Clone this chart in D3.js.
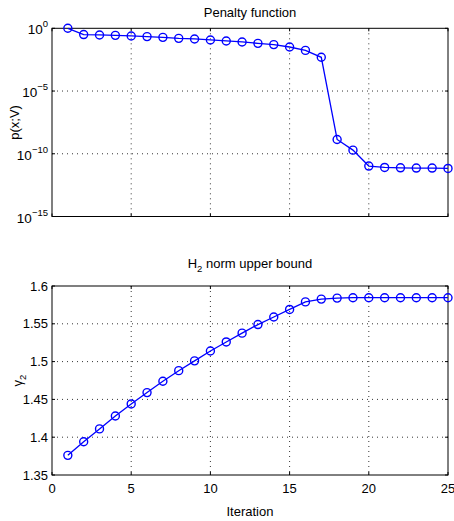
<!DOCTYPE html>
<html><head><meta charset="utf-8">
<script src="https://cdn.jsdelivr.net/npm/d3@7"></script>
<style>body{margin:0;background:#fff}svg{display:block}text{font-family:"Liberation Sans",Arial,Helvetica,sans-serif;fill:#000}</style>
</head><body>
<script>
const iterations = d3.range(1, 26);
const penaltyExp = [0,-0.5,-0.53,-0.56,-0.61,-0.66,-0.72,-0.8,-0.85,-0.93,-1.01,-1.09,-1.2,-1.3,-1.49,-1.76,-2.31,-8.86,-9.71,-10.98,-11.09,-11.12,-11.14,-11.14,-11.17];
const penalty = penaltyExp.map(e => Math.pow(10, e));
const gamma2 = [1.376,1.394,1.411,1.428,1.444,1.459,1.474,1.488,1.501,1.514,1.526,1.5376,1.549,1.559,1.569,1.579,1.5827,1.584,1.5845,1.5845,1.5845,1.5845,1.5845,1.5845,1.5845];
const xTicks = [0,5,10,15,20,25];
const logTicks = [0,-5,-10,-15];
const linTicks = [1.35,1.4,1.45,1.5,1.55,1.6];

const W = 454, H = 521;
const svg = d3.select("body").append("svg").attr("width", W).attr("height", H);
const L = 52, R = 448;
const x = d3.scaleLinear().domain([0,25]).range([L,R]);
const blue = "#0000ff";
const TL = 3;

function frame(top, bottom, y, yTickVals, gridY, showXLabels) {
  const g = svg.append("g");
  xTicks.filter(t => t>0 && t<25).forEach(t => {
    g.append("line").attr("x1", x(t)).attr("x2", x(t)).attr("y1", top).attr("y2", bottom)
      .attr("stroke","#000").attr("stroke-width",0.8).attr("stroke-dasharray","1,4");
  });
  gridY.forEach(v => {
    g.append("line").attr("x1", L).attr("x2", R).attr("y1", y(v)).attr("y2", y(v))
      .attr("stroke","#000").attr("stroke-width",0.8).attr("stroke-dasharray","1,4");
  });
  xTicks.forEach(t => {
    g.append("line").attr("x1",x(t)).attr("x2",x(t)).attr("y1",bottom).attr("y2",bottom-TL).attr("stroke","#000");
    g.append("line").attr("x1",x(t)).attr("x2",x(t)).attr("y1",top).attr("y2",top+TL).attr("stroke","#000");
  });
  yTickVals.forEach(v => {
    g.append("line").attr("x1",L).attr("x2",L+TL).attr("y1",y(v)).attr("y2",y(v)).attr("stroke","#000");
    g.append("line").attr("x1",R).attr("x2",R-TL).attr("y1",y(v)).attr("y2",y(v)).attr("stroke","#000");
  });
  g.append("rect").attr("x",L).attr("y",top).attr("width",R-L).attr("height",bottom-top)
    .attr("fill","none").attr("stroke","#000").attr("stroke-width",1);
  if (showXLabels) {
    xTicks.forEach(t => {
      g.append("text").attr("x", x(t)).attr("y", bottom+18).attr("text-anchor","middle")
        .attr("font-size",13).text(t);
    });
  }
  return g;
}

function series(yScale, vals) {
  const g = svg.append("g");
  const line = d3.line().x((d,i)=>x(iterations[i])).y(d=>yScale(d));
  g.append("path").datum(vals).attr("d", line).attr("fill","none").attr("stroke",blue).attr("stroke-width",1.3);
  g.selectAll("circle").data(vals).join("circle")
    .attr("cx",(d,i)=>x(iterations[i])).attr("cy",d=>yScale(d)).attr("r",4)
    .attr("fill","none").attr("stroke",blue).attr("stroke-width",1.4);
}

const t1 = 28.3, b1 = 216.5;
const y1 = d3.scaleLog().domain([1e-15, 1]).range([b1, t1]);
const logVals = logTicks.map(e => Math.pow(10,e));
frame(t1, b1, y1, logVals, [1e-5, 1e-10], false);
logTicks.forEach(e => {
  const yy = y1(Math.pow(10,e));
  const t = svg.append("text").attr("x", 48).attr("y", yy+6).attr("text-anchor","end").attr("font-size",13.5);
  t.append("tspan").text("10");
  t.append("tspan").attr("dy",-7).attr("font-size",9.5).text(e===0 ? "0" : "\u2212"+(-e));
});
series(y1, penalty);
svg.append("text").attr("x",(L+R)/2).attr("y",16.5).attr("text-anchor","middle").attr("font-size",13).text("Penalty function");
svg.append("text").attr("transform",`translate(19,${(t1+b1)/2}) rotate(-90)`).attr("text-anchor","middle").attr("font-size",13).text("p(x;V)");

const t2 = 286, b2 = 475;
const y2 = d3.scaleLinear().domain([1.35,1.6]).range([b2,t2]);
frame(t2, b2, y2, linTicks, [1.4,1.45,1.5,1.55], true);
linTicks.forEach(v => {
  svg.append("text").attr("x",48).attr("y",y2(v)+4.5).attr("text-anchor","end").attr("font-size",13).text(d3.format(".3~f")(v));
});
series(y2, gamma2);
const tt = svg.append("text").attr("x",(L+R)/2).attr("y",268).attr("text-anchor","middle").attr("font-size",13);
tt.append("tspan").text("H");
tt.append("tspan").attr("dy",4).attr("font-size",9.5).text("2");
tt.append("tspan").attr("dy",-4).text(" norm upper bound");
const gl = svg.append("text").attr("transform",`translate(22,${(t2+b2)/2}) rotate(-90)`).attr("text-anchor","middle").attr("font-size",13);
gl.append("tspan").text("\u03b3");
gl.append("tspan").attr("dy",4).attr("font-size",9.5).text("2");
svg.append("text").attr("x",(L+R)/2).attr("y",516).attr("text-anchor","middle").attr("font-size",13).text("Iteration");
</script>
</body></html>
